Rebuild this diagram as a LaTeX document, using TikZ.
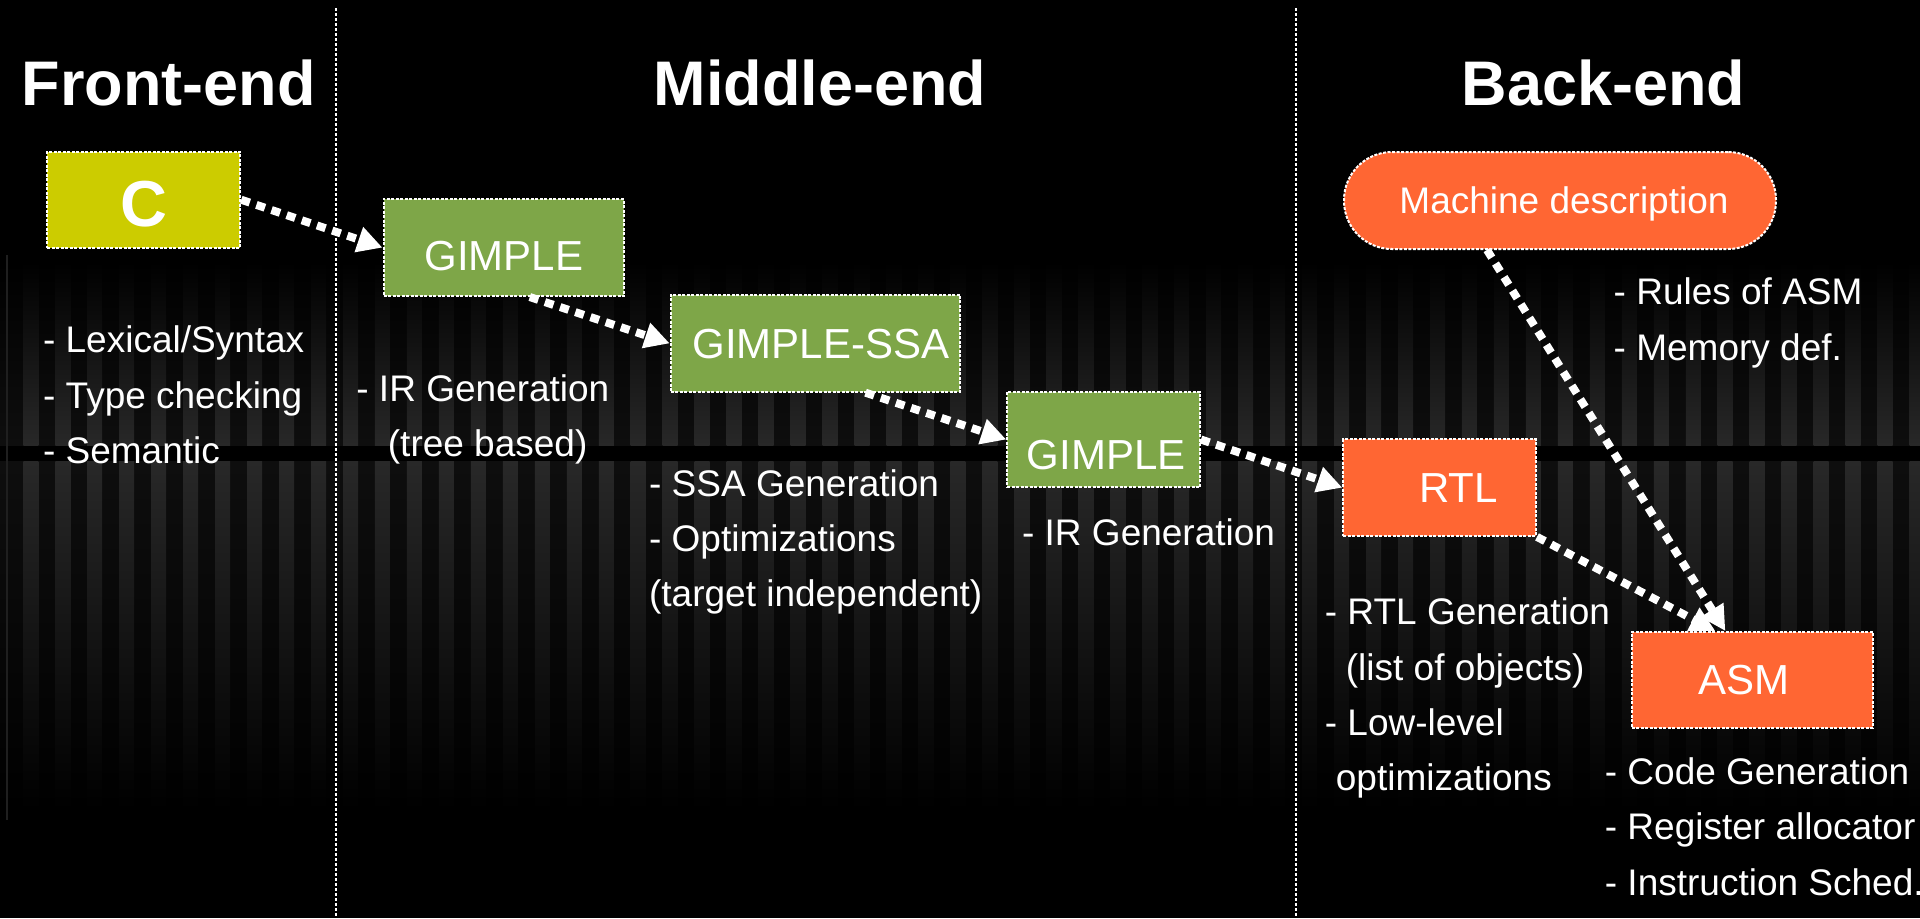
\documentclass[tikz,border=0pt]{standalone}
\usepackage{fontspec}
\setmainfont{Liberation Sans}
\usetikzlibrary{arrows.meta,calc}

\definecolor{cyel}{RGB}{204,204,0}
\definecolor{cgreen}{RGB}{126,166,72}
\definecolor{corange}{RGB}{255,102,51}
\definecolor{stripec}{RGB}{40,40,40}
\definecolor{gapc}{RGB}{14,14,14}

\newcommand\fTitle{\fontsize{31.5pt}{36pt}\selectfont\bfseries}
\newcommand\fBox{\fontsize{21pt}{25pt}\selectfont}
\newcommand\fBig{\fontsize{32.5pt}{38pt}\selectfont\bfseries}
\newcommand\fDesc{\fontsize{18.5pt}{27.65pt}\selectfont}

\begin{document}
\begin{tikzpicture}[x=0.5pt,y=-0.5pt,
  stage/.style={draw=white, line width=1pt, dash pattern=on 1.5pt off 0.75pt,
    text=white, inner sep=0pt, text depth=0pt, font=\fBox},
  flow/.style={draw=white, line width=4pt, dash pattern=on 4.5pt off 3.5pt,
    -{Triangle[length=12.5pt,width=12.5pt]}},
  sep/.style={draw=white, line width=1pt, dash pattern=on 1.5pt off 1pt},
  title/.style={text=white, font=\fTitle, anchor=base, inner sep=0pt},
  desc/.style={text=white, font=\fDesc, align=left, anchor=base west, inner sep=0pt}]

% canvas
\useasboundingbox (0,0) rectangle (1920,918);
\fill[black] (0,0) rectangle (1920,918);

% striped background bands
\shade[top color=black, bottom color=gapc] (0,262) rectangle (1920,445);
\shade[top color=gapc, bottom color=black] (0,461) rectangle (1920,810);
\foreach \k in {0,...,59}{
  \shade[top color=black, bottom color=stripec] ({23.3+31.97*\k},262) rectangle +(15,183);
  \shade[top color=stripec, bottom color=black] ({23.3+31.97*\k},461) rectangle +(15,349);
}
\draw[line width=1pt, black!88!white] (6.5,255) -- (6.5,820);

% stage separators
\coordinate (s1top) at (335.7,8);
\coordinate (s1bot) at (335.7,918);
\coordinate (s2top) at (1296,8);
\coordinate (s2bot) at (1296,918);
\draw[sep] (s1top) -- (s1bot);
\draw[sep] (s2top) -- (s2bot);

% titles
\node[title] (tFront) at (168.5,105) {Front-end};
\node[title] (tMiddle) at (820,105) {Middle-end};
\node[title] (tBack) at (1603.3,105) {Back-end};

% stages
\node[stage, fill=cyel, font=\fBig, text height=26.9pt,
  minimum width=96.5pt, minimum height=48pt] (C) at (143.75,199.7) {C};
\node[stage, fill=cgreen, text height=22.75pt,
  minimum width=120.25pt, minimum height=48.4pt] (G1) at (503.75,247.6) {GIMPLE};
\node[stage, fill=cgreen,
  minimum width=144.85pt, minimum height=48.35pt] (SSA) at (815.55,343.35) {\hspace*{5.3pt}GIMPLE-SSA};
\node[stage, fill=cgreen, text height=30.25pt,
  minimum width=96.35pt, minimum height=47.8pt] (G2) at (1103.65,439.5) {\hspace*{2.4pt}GIMPLE};
\node[stage, fill=corange, rounded corners=24pt, font=\fDesc,
  minimum width=216pt, minimum height=48.5pt] (MD) at (1560,200.5) {\hspace*{4pt}Machine description};
\node[stage, fill=corange,
  minimum width=96.35pt, minimum height=48.25pt] (RTL) at (1439.65,487.65) {\hspace*{18.7pt}RTL};
\node[stage, fill=corange,
  minimum width=120.65pt, minimum height=48pt] (ASM) at (1752.35,680) {ASM\hspace*{8.4pt}};

% descriptions (anchored at the baseline of their last line)
\node[desc] (dFront) at (42.7,463.3) {- Lexical/Syntax\\- Type checking\\- Semantic};
\node[desc] (dG1) at (356,456.5) {- IR Generation\\\hspace*{15.75pt}(tree based)};
\node[desc] (dSSA) at (648.7,606.7) {- SSA Generation\\- Optimizations\\(target independent)};
\node[desc] (dG2) at (1021.7,545) {- IR Generation};
\node[desc] (dMD) at (1613.3,360) {- Rules of ASM\\- Memory def.};
\node[desc] (dRTL) at (1324.5,790.7) {- RTL Generation\\\hspace*{10.5pt}(list of objects)\\- Low-level\\\hspace*{5.5pt}optimizations};
\node[desc] (dASM) at (1604.5,895) {- Code Generation\\- Register allocator\\- Instruction Sched.};

% flow between stages
\draw[flow] (C.east) -- (G1.west);
\draw[flow] ($(G1.south)+(26,0)$) -- (SSA.west);
\draw[flow] ($(SSA.south)+(50,0)$) -- (G2.west);
\draw[flow] (G2.east) -- (RTL.west);
\draw[flow] ($(MD.south)+(-73,0)$) -- ($(ASM.north)+(-27,0)$);
\draw[flow] (RTL.south east) -- ($(ASM.north)+(-37,0)$);
\end{tikzpicture}
\end{document}
